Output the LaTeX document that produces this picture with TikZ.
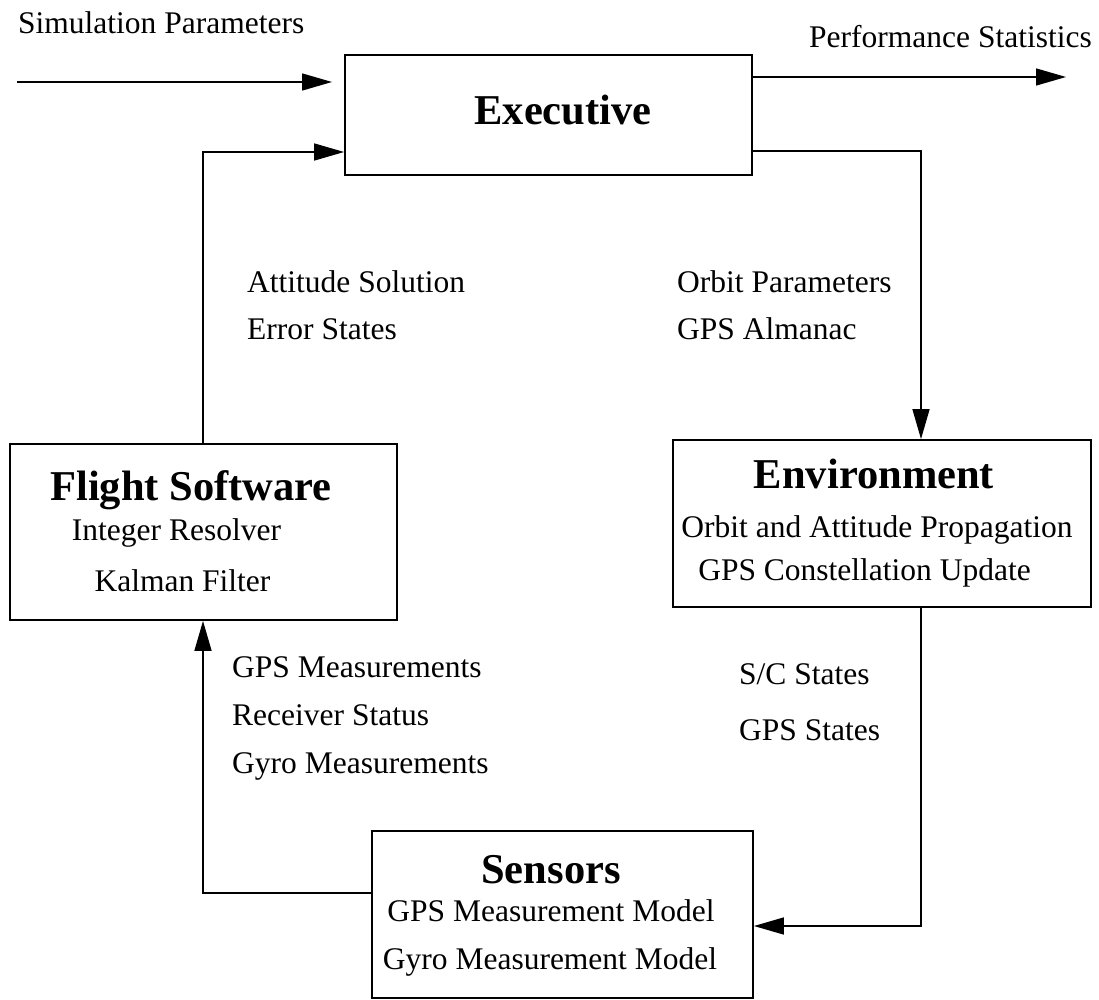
\documentclass[tikz,border=0pt]{standalone}
\usepackage{fontspec}
\setmainfont{Liberation Serif}
\usetikzlibrary{arrows.meta}
\tikzset{
  box/.style={draw, line width=1.8pt, inner sep=0pt},
  arr/.style={line width=1.5pt, -{Triangle[length=30pt,width=17pt]}},
  lbl/.style={anchor=base west, inner sep=0pt, font=\fontsize{31.5}{38}\selectfont},
  body/.style={anchor=base, inner sep=0pt, font=\fontsize{31.5}{38}\selectfont},
  ttl/.style={anchor=base, inner sep=0pt, font=\fontsize{42.5}{50}\selectfont\bfseries},
}
\begin{document}
\begin{tikzpicture}[x=1pt,y=-1pt]
\useasboundingbox (0,0) rectangle (1099,1000);
% boxes
\node[box, minimum width=407pt, minimum height=120pt] (exec) at (548.5,115) {};
\node[box, minimum width=387pt, minimum height=176pt] (fs) at (203.5,532) {};
\node[box, minimum width=418pt, minimum height=167pt] (env) at (882,523.5) {};
\node[box, minimum width=381pt, minimum height=167pt] (sens) at (562.5,914.5) {};
% box texts
\node[ttl] (tExec) at (563,125) {Executive};
\node[ttl] (tFs) at (191,500) {Flight Software};
\node[body] (tFs1) at (176.5,540) {Integer Resolver};
\node[body] (tFs2) at (182.5,591) {Kalman Filter};
\node[ttl] (tEnv) at (874,488) {Environment};
\node[body] (tEnv1) at (877,537) {Orbit and Attitude Propagation};
\node[body] (tEnv2) at (864.5,580) {GPS Constellation Update};
\node[ttl] (tSens) at (551,883) {Sensors};
\node[body] (tSens1) at (551,921) {GPS Measurement Model};
\node[body] (tSens2) at (550,969) {Gyro Measurement Model};
% outside labels
\node[lbl] (simlbl) at (18,34) {Simulation Parameters};
\node[lbl] (perflbl) at (809,48) {Performance Statistics};
\node[lbl] (l1) at (247,292) {Attitude Solution};
\node[lbl] (l2) at (247,339) {Error States};
\node[lbl] (l3) at (677,292) {Orbit Parameters};
\node[lbl] (l4) at (677,339) {GPS Almanac};
\node[lbl] (l5) at (739,684) {S/C States};
\node[lbl] (l6) at (739,740) {GPS States};
\node[lbl] (l7) at (232,677) {GPS Measurements};
\node[lbl] (l8) at (232,725) {Receiver Status};
\node[lbl] (l9) at (232,773) {Gyro Measurements};
% coordinates
\coordinate (simA) at (17,82);
\coordinate (simB) at (332,82);
\coordinate (perfB) at (1066,77);
\coordinate (xr) at (921,151);
\coordinate (xl) at (203,152);
\coordinate (xs) at (921,926);
\coordinate (xf) at (203,893);
% connectors
\draw[arr] (simA) -- (simB);
\draw[arr] (exec.east |- perfB) -- (perfB);
\draw[arr] (exec.east |- xr) -| (env.north -| xr);
\draw[arr] (fs.north -| xl) |- (exec.west |- xl);
\draw[arr] (env.south -| xs) |- (sens.east |- xs);
\draw[arr] (sens.west |- xf) -| (fs.south -| xf);
\end{tikzpicture}
\end{document}
